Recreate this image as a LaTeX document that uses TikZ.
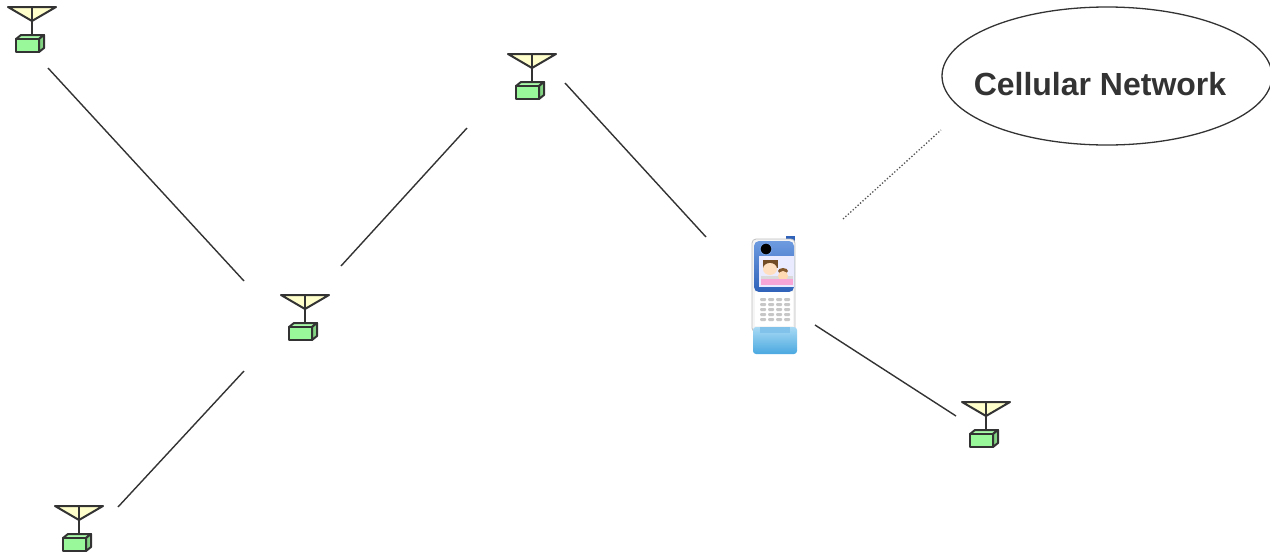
\documentclass[tikz,border=0pt]{standalone}
\usepackage{fontspec}
\setmainfont{Liberation Sans}
\usetikzlibrary{shapes.geometric}
\definecolor{ink}{HTML}{333333}
\definecolor{dishfill}{HTML}{FFFFCC}
\definecolor{boxfill}{HTML}{99F899}
\definecolor{boxtop}{HTML}{A8FBA8}
\definecolor{phblue}{HTML}{2F62B8}
\definecolor{phbluelt}{HTML}{6E9BE0}
\definecolor{cradle}{HTML}{4AA8E0}
\definecolor{cradlelt}{HTML}{A8DAF4}
\begin{document}
\begin{tikzpicture}[x=1pt,y=-1pt,
  link/.style={draw=ink,line width=1.4pt},
  radiolink/.style={draw=ink!85,line width=1.3pt,dotted},
  iconline/.style={draw=ink,line width=2pt,line join=round},
  antenna/.pic={
    \filldraw[iconline,fill=dishfill] (-24,0) -- (24,0) -- (0,14) -- cycle;
    \draw[iconline] (0,0) -- (0,28);
    \filldraw[iconline,fill=boxtop] (-16,32) -- (-11,28) -- (12,28) -- (7,32) -- cycle;
    \filldraw[iconline,fill=boxfill!85!black] (7,32) -- (12,28) -- (12,41) -- (7,45) -- cycle;
    \filldraw[iconline,fill=boxfill] (-16,32) rectangle (7,45);
    \coordinate (-c) at (0,22);
  }]
\useasboundingbox (0,0) rectangle (1270,555);

% base stations
\pic (a1) at (32,7) {antenna};
\pic (a2) at (305,295) {antenna};
\pic (a3) at (532,54) {antenna};
\pic (a4) at (79,506) {antenna};
\pic (a5) at (986,402) {antenna};

% cellular network cloud
\node[draw=ink,line width=1.3pt,ellipse,minimum width=330pt,minimum height=138pt,inner sep=0pt]
  (cell) at (1107,76) {};
\node[text=ink,font=\bfseries\fontsize{32}{37}\selectfont] (celltext) at (1100,84) {Cellular Network};

% handset
\begin{scope}
  \fill[phblue] (786,236) rectangle (795,254);
  \filldraw[fill=black!4,draw=black!25,line width=0.8pt,rounded corners=4pt]
    (752,239) rectangle (795,332);
  \shade[top color=phbluelt,bottom color=phblue,rounded corners=5pt]
    (754,241) rectangle (794,292);
  \filldraw[fill=black,draw=phbluelt,line width=1.2pt] (766,249) circle (6);
  \fill[white!92!blue] (759,256) rectangle (794,287);
  \fill[black!15] (761,258) rectangle (793,285);
  \fill[blue!8] (761,258) rectangle (793,276);
  \fill[brown!60!black] (763,260) rectangle (778,268);
  \fill[orange!25] (770,269) ellipse (7 and 6);
  \fill[brown!70!black] (783,271) ellipse (5 and 3);
  \fill[orange!30] (783,276) ellipse (5 and 5);
  \fill[magenta!35] (761,279) rectangle (793,285);
  \fill[white] (755,292) rectangle (793,326);
  \foreach \r in {0,...,4}{
    \foreach \c in {0,...,3}{
      \fill[black!22,rounded corners=1pt]
        (760+\c*8,298+\r*5) rectangle ++(6,3);
    }
  }
  \shade[top color=cradlelt,bottom color=cradle,rounded corners=3pt]
    (753,327) rectangle (797,354);
  \fill[cradle!70] (760,327) rectangle (790,333);
  \node[inner sep=0pt,minimum width=45pt,minimum height=120pt] (phone) at (774,296) {};
\end{scope}

% anchor points of the radio links
\coordinate (l1s) at (48,68);   \coordinate (l1e) at (244,281);
\coordinate (l2s) at (341,266); \coordinate (l2e) at (467,128);
\coordinate (l3s) at (244,371); \coordinate (l3e) at (118,507);
\coordinate (l4s) at (565,83);  \coordinate (l4e) at (706,237);
\coordinate (l5s) at (815,325); \coordinate (l5e) at (956,416);
\coordinate (l6s) at (843,219); \coordinate (l6e) at (941,130);

\draw[link] (l1s) -- (l1e);
\draw[link] (l2s) -- (l2e);
\draw[link] (l3s) -- (l3e);
\draw[link] (l4s) -- (l4e);
\draw[link] (l5s) -- (l5e);
\draw[radiolink] (l6s) -- (l6e);
\end{tikzpicture}
\end{document}
